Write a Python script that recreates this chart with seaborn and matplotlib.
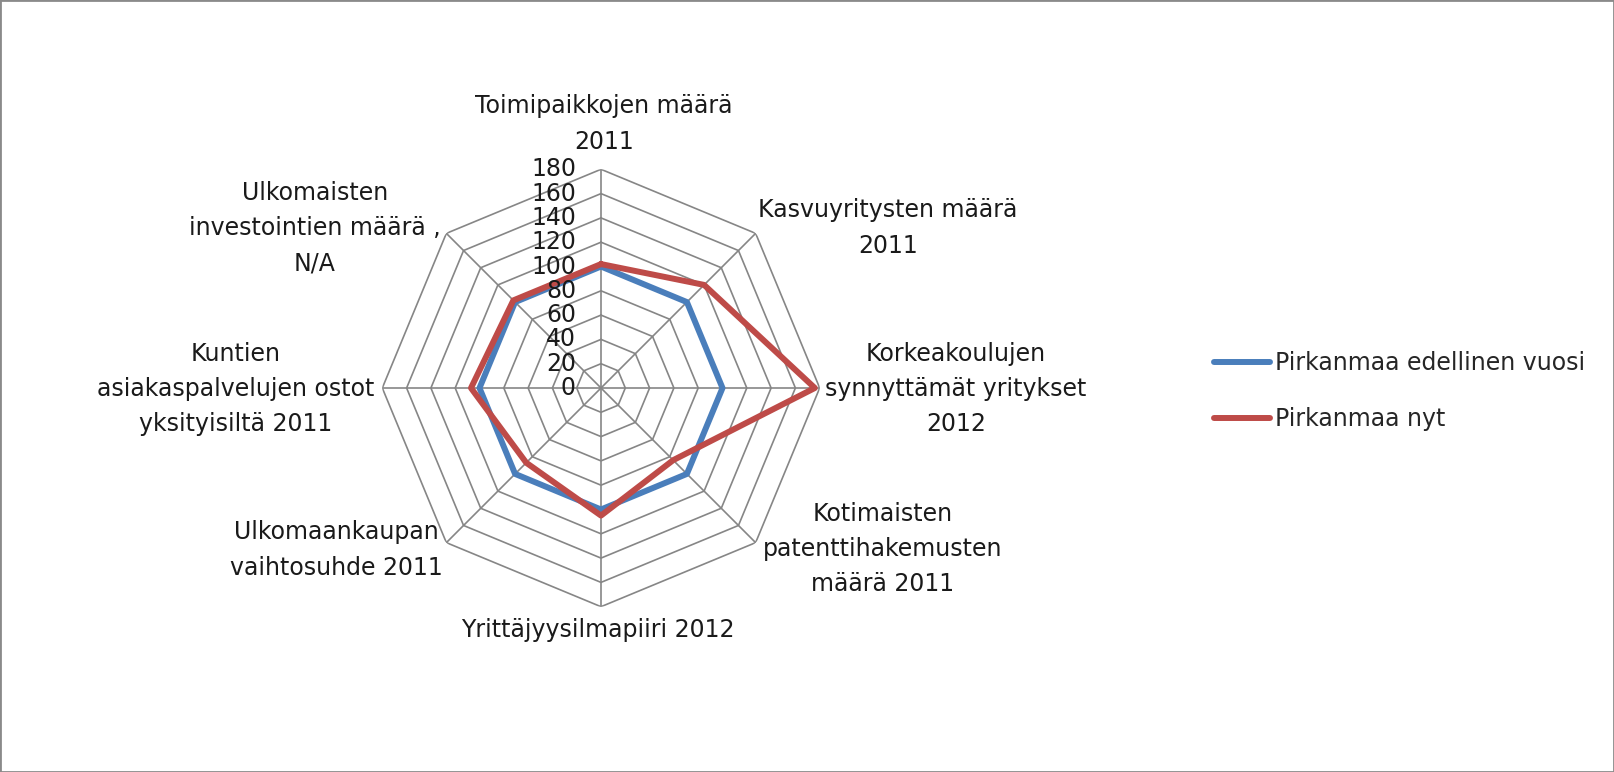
import numpy as np
import pandas as pd
import seaborn as sns
import matplotlib.pyplot as plt
from matplotlib.patches import Rectangle

# radar categories, clockwise from the top
categories = [
    "Toimipaikkojen määrä\n2011",
    "Kasvuyritysten määrä\n2011",
    "Korkeakoulujen\nsynnyttämät yritykset\n2012",
    "Kotimaisten\npatenttihakemusten\nmäärä 2011",
    "Yrittäjyysilmapiiri 2012",
    "Ulkomaankaupan\nvaihtosuhde 2011",
    "Kuntien\nasiakaspalvelujen ostot\nyksityisiltä 2011",
    "Ulkomaisten\ninvestointien määrä ,\nN/A",
]
prev_year = [100, 100, 100, 100, 100, 100, 100, 100]
now = [102, 120, 176, 84, 105, 87, 107, 102]
series_names = ["Pirkanmaa edellinen vuosi", "Pirkanmaa nyt"]
ticks = [0, 20, 40, 60, 80, 100, 120, 140, 160, 180]

W, H = 1614, 772
cx, cy, rad = 601, 388, 218.7   # chart centre and outer radius in pixels

# where the category labels sit (pixel centres)
label_xy = [(604, 124), (888, 228), (956, 389), (883, 549),
            (598, 630), (336, 550), (236, 389), (315, 228)]

sns.set_style("white")
plt.rcParams['font.family'] = ['DejaVu Sans']

n = len(categories)
theta = np.linspace(0, 2 * np.pi, n, endpoint=False)
theta_closed = np.append(theta, 2 * np.pi)

rows = []
for name, vals in zip(series_names, [prev_year, now]):
    vals_closed = vals + [vals[0]]
    for t, v in zip(theta_closed, vals_closed):
        rows.append({"theta": t, "value": v, "series": name})
df = pd.DataFrame(rows)

fig = plt.figure(figsize=(W / 100, H / 100), dpi=100)
ax = fig.add_axes([(cx - rad) / W, (H - cy - rad) / H, 2 * rad / W, 2 * rad / H],
                  projection="polar")
ax.set_theta_zero_location("N")
ax.set_theta_direction(-1)
ax.set_ylim(0, 180)
ax.grid(False)
ax.spines["polar"].set_visible(False)
ax.set_xticks([])
ax.set_yticks([])

# octagon grid
grid_col = "#868686"
for r in ticks[1:]:
    ax.plot(theta_closed, [r] * (n + 1), color=grid_col, lw=1.2, zorder=1)
for t in theta:
    ax.plot([t, t], [0, 180], color=grid_col, lw=1.2, zorder=1)

sns.lineplot(data=df, x="theta", y="value", hue="series", sort=False, estimator=None,
             palette=["#4a7ebb", "#be4b48"], linewidth=4.3, ax=ax, zorder=3)
ax.set_xlabel("")
ax.set_ylabel("")

# value labels along the top axis
for v in ticks:
    ax.annotate(str(v), xy=(0, v), xytext=(-18, 0), textcoords="offset points",
                ha="right", va="center", fontsize=17, color="#1a1a1a")

# category labels
for lab, (x, y) in zip(categories, label_xy):
    fig.text(x / W, 1 - y / H, lab, ha="center", va="center", fontsize=17,
             linespacing=1.6, color="#1a1a1a")

sns.move_legend(ax, "center left", bbox_to_anchor=(1202 / W, 1 - 391 / H),
                bbox_transform=fig.transFigure, title=None, frameon=False,
                fontsize=17, handlelength=2.4, handletextpad=0.2,
                labelspacing=1.35, borderpad=0)

fig.patches.append(Rectangle((0, 0), 1, 1, transform=fig.transFigure, fill=False,
                             edgecolor="#8a8a8a", lw=2))

plt.savefig("out.png", dpi=100)
